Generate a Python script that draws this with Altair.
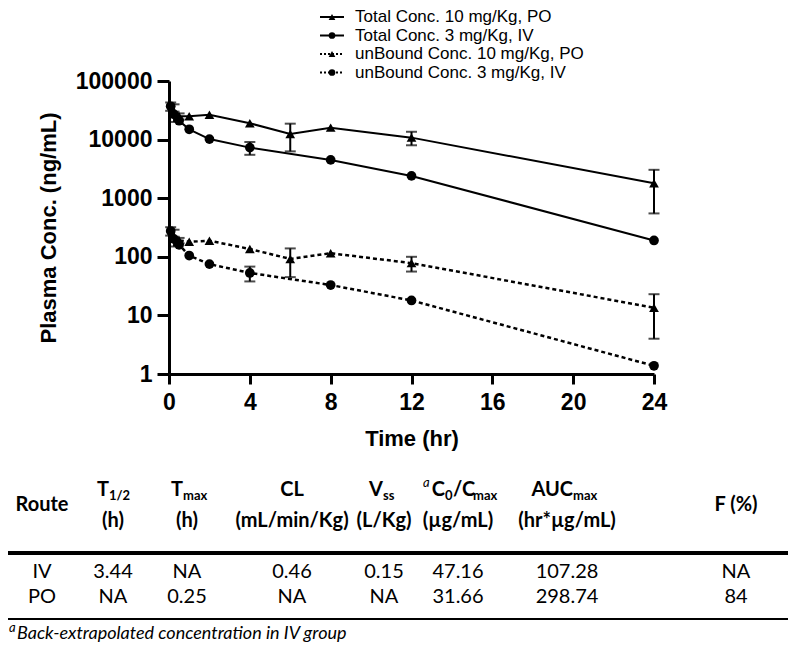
import altair as alt
import pandas as pd

# ---------------- data ----------------
t_po = [0.25, 0.5, 1, 2, 4, 6, 8, 12, 24]
t_iv = [0.083, 0.25, 0.5, 1, 2, 4, 8, 12, 24]

total_po = [30000, 25000, 25000, 26500, 19000, 12500, 16000, 10800, 1800]
total_po_sd = [10000, 3000, 0, 0, 0, 6200, 0, 2800, 1250]
total_iv = [37000, 27000, 21000, 15000, 10200, 7300, 4500, 2400, 190]
total_iv_sd = [6000, 3000, 0, 0, 0, 1800, 0, 0, 0]
unb_po = [220, 190, 180, 188, 136, 92, 115, 78, 13.5]
unb_po_sd = [70, 20, 0, 0, 0, 47, 0, 22, 9.5]
unb_iv = [275, 200, 160, 105, 75, 53, 33, 18, 1.38]
unb_iv_sd = [45, 20, 0, 0, 0, 15, 0, 0, 0]

series_names = ["Total Conc. 10 mg/Kg, PO", "Total Conc. 3 mg/Kg, IV",
                "unBound Conc. 10 mg/Kg, PO", "unBound Conc. 3 mg/Kg, IV"]
series_route = ["PO", "IV", "PO", "IV"]
series_kind = ["total", "total", "unbound", "unbound"]
series_t = [t_po, t_iv, t_po, t_iv]
series_v = [total_po, total_iv, unb_po, unb_iv]
series_sd = [total_po_sd, total_iv_sd, unb_po_sd, unb_iv_sd]

x_ticks = [0, 4, 8, 12, 16, 20, 24]
y_ticks = [1, 10, 100, 1000, 10000, 100000]

# table
tbl_cols_top = ["Route", "T|1/2", "T|max", "CL", "V|ss", "C0/Cmax", "AUC|max", "F (%)"]
tbl_units = ["", "(h)", "(h)", "(mL/min/Kg)", "(L/Kg)", "(µg/mL)", "(hr*µg/mL)", ""]
tbl_rows = [["IV", "3.44", "NA", "0.46", "0.15", "47.16", "107.28", "NA"],
            ["PO", "NA", "0.25", "NA", "NA", "31.66", "298.74", "84"]]
footnote = "Back-extrapolated concentration in IV group"

# ---------------- layout helpers (pixel layout, plot origin) ----------------
OX, OY = 169, 81          # page position of the plot origin
W, H = 485, 293


def vx(px):
    return px - OX


def vy(py):
    return py - OY


rows = []
for name, rt, kd, ts, vs, sds in zip(series_names, series_route, series_kind,
                                     series_t, series_v, series_sd):
    for t, v, sd in zip(ts, vs, sds):
        rows.append(dict(series=name, route=rt, kind=kd, t=t, v=v,
                         lo=v - sd, hi=v + sd, sd=sd))
df = pd.DataFrame(rows)
df_err = df[df.sd > 0].copy()
caps = pd.concat([df_err.assign(c=df_err.lo), df_err.assign(c=df_err.hi)])

X = alt.X("t:Q", scale=alt.Scale(domain=[0, 24], nice=False, zero=False),
          axis=alt.Axis(values=x_ticks, title="Time (hr)", tickSize=10, labelFlush=False,
                        labelPadding=7, titlePadding=14, grid=False))
Y = alt.Y("v:Q", scale=alt.Scale(type="log", domain=[1, 100000], nice=False),
          axis=alt.Axis(values=y_ticks, format="d", title="Plasma Conc. (ng/mL)",
                        labelFlush=False, tickSize=12, labelPadding=5, titlePadding=15,
                        grid=False))
shape_scale = alt.Scale(domain=["PO", "IV"], range=["triangle-up", "circle"])

base = alt.Chart(df)
solid = base.transform_filter(alt.datum.kind == "total").mark_line(
    color="black", strokeWidth=2).encode(x=X, y=Y, detail="series:N")
dotted = base.transform_filter(alt.datum.kind == "unbound").mark_line(
    color="black", strokeWidth=2.5, strokeDash=[4, 3]).encode(x=X, y=Y, detail="series:N")
pts = base.mark_point(filled=True, color="black", opacity=1, size=95).encode(
    x=X, y=Y, shape=alt.Shape("route:N", scale=shape_scale, legend=None))
err = alt.Chart(df_err).mark_rule(color="black", strokeWidth=2).encode(
    x="t:Q", y="lo:Q", y2="hi:Q")
cap = alt.Chart(caps).mark_tick(color="black", orient="horizontal", size=11,
                                thickness=2).encode(x="t:Q", y="c:Q")
plot = alt.layer(solid, dotted, err, cap, pts)

# ---------------- legend ----------------
leg = pd.DataFrame(dict(label=series_names, route=series_route, kind=series_kind,
                        py=[vy(17), vy(35.5), vy(54), vy(72.5)]))
LY = alt.Y("py:Q", scale=None, axis=None)
leg_solid = alt.Chart(leg).transform_filter(alt.datum.kind == "total").mark_rule(
    color="black", strokeWidth=2).encode(x=alt.value(vx(320)), x2=alt.value(vx(344)), y=LY)
leg_dot = alt.Chart(leg).transform_filter(alt.datum.kind == "unbound").mark_rule(
    color="black", strokeWidth=2, strokeDash=[2, 2]).encode(
    x=alt.value(vx(320)), x2=alt.value(vx(344)), y=LY)
leg_pts = alt.Chart(leg).mark_point(filled=True, color="black", opacity=1, size=45).encode(
    x=alt.value(vx(332)), y=LY, shape=alt.Shape("route:N", scale=shape_scale, legend=None))
leg_txt = alt.Chart(leg).mark_text(align="left", baseline="middle", font="Liberation Sans",
                                   fontSize=17, color="black").encode(
    x=alt.value(vx(355)), y=LY, text="label:N")

# ---------------- table ----------------
col_cx = [42, 113, 187, 292, 384, 458, 567, 736]
pieces = []


def add(text, px, py, size=20, align="center", weight="bold", style="normal"):
    pieces.append(dict(text=text, x=vx(px), y=vy(py), size=size, align=align,
                       weight=weight, style=style))


HY1, HY2, HYM = 490, 521, 505
for i, (top, unit) in enumerate(zip(tbl_cols_top, tbl_units)):
    cx = col_cx[i]
    if top == "C0/Cmax":
        add("a", cx - 35, HY1 - 7, size=13, align="left", weight="normal", style="italic")
        add("C", cx - 13, HY1, align="right")
        add("0", cx - 13, HY1 + 6, size=13, align="left")
        add("/C", cx - 5, HY1, align="left")
        add("max", cx + 15, HY1 + 6, size=13, align="left")
    elif "|" in top:
        main, sub = top.split("|")
        off = {"T": -4, "V": -1, "AUC": 6}[main]
        add(main, cx + off, HY1, align="right")
        add(sub, cx + off, HY1 + 6, size=13, align="left")
    elif unit == "":
        add(top, cx, HYM)
    else:
        add(top, cx, HY1)
    if unit:
        add(unit, cx, HY2)

for r, ry in zip(tbl_rows, [572, 597]):
    for i, val in enumerate(r):
        add(val, col_cx[i], ry, size=20, weight="normal")

add("a", 9, 628, size=13, align="left", weight="normal", style="italic")
add(footnote, 17, 634, size=18, align="left", weight="normal", style="italic")

pdf = pd.DataFrame(pieces)
text_layers = []
for (al, wt, st), g in pdf.groupby(["align", "weight", "style"]):
    text_layers.append(
        alt.Chart(g).mark_text(align=al, baseline="middle", font="Lato", fontWeight=wt,
                               fontStyle=st, color="black").encode(
            x=alt.X("x:Q", scale=None, axis=None),
            y=alt.Y("y:Q", scale=None, axis=None),
            text="text:N",
            size=alt.Size("size:Q", scale=None, legend=None)))

rules = pd.DataFrame(dict(x1=[vx(8), vx(8)], x2=[vx(788), vx(788)],
                          y=[vy(553), vy(619)], w=[4, 2]))
rule_layer = alt.Chart(rules).mark_rule(color="black").encode(
    x=alt.X("x1:Q", scale=None, axis=None), x2="x2:Q",
    y=alt.Y("y:Q", scale=None, axis=None),
    strokeWidth=alt.StrokeWidth("w:Q", scale=None, legend=None))

chart = alt.layer(plot, leg_solid, leg_dot, leg_pts, leg_txt, rule_layer, *text_layers).resolve_scale(
    x="independent", y="independent"
).properties(
    width=W, height=H,
    autosize=alt.AutoSizeParams(type="none"),
    padding={"left": OX - 8, "top": OY - 8, "right": 784 - (OX - 8) - W,
             "bottom": 634 - (OY - 8) - H},
).configure_view(stroke=None).configure_axis(
    domainColor="black", domainWidth=3, tickColor="black", tickWidth=3,
    labelFont="Liberation Sans", labelFontWeight="bold", labelFontSize=23,
    labelColor="black", titleFont="Liberation Sans", titleFontWeight="bold",
    titleFontSize=22, titleColor="black")

chart.save("out.html", embed_options={"renderer": "svg", "actions": False})
